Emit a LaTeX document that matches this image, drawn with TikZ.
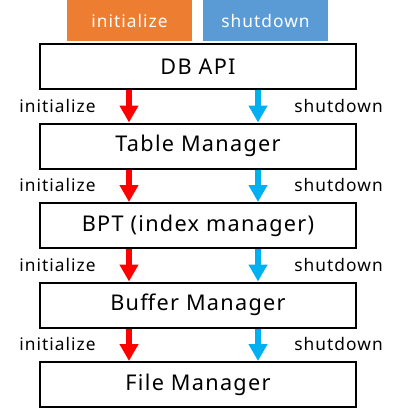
\documentclass[tikz,border=0pt]{standalone}
\usepackage{fontspec}
\setmainfont{Noto Sans}[LetterSpace=6]
\usetikzlibrary{arrows.meta}
\definecolor{legor}{HTML}{ED7D31}
\definecolor{legbl}{HTML}{5B9BD5}
\definecolor{arrred}{HTML}{FF0000}
\definecolor{arrblue}{HTML}{00B0F0}
\tikzset{
  layerbox/.style={draw=black, line width=1.5pt, minimum width=237pt, minimum height=33.75pt, inner sep=0pt,
    font=\fontsize{16.25}{18}\selectfont},
  legbox/.style={minimum width=93.75pt, minimum height=30.75pt, inner sep=0pt, text=white,
    font=\fontsize{13}{15}\selectfont},
  sidelabel/.style={inner sep=0pt, font=\fontsize{13}{15}\selectfont},
  flowarrow/.style={line width=4.5pt, -{Triangle[width=13.5pt,length=12.75pt]}},
}
\begin{document}
\begin{tikzpicture}[x=0.75pt,y=-0.75pt]
\useasboundingbox (0,0) rectangle (403,414);
\node[legbox, fill=legor] (legi) at (129.5,20.5) {initialize};
\node[legbox, fill=legbl] (legs) at (265.5,20.5) {shutdown};
\node[layerbox] (db) at (198,66.5) {DB API};
\node[layerbox] (tm) at (198,146) {Table Manager};
\node[layerbox] (bpt) at (198,225.5) {BPT (index manager)};
\node[layerbox] (bm) at (198,305) {Buffer Manager};
\node[layerbox] (fm) at (198,384.5) {File Manager};
\coordinate (rx) at (129,0);
\coordinate (bx) at (258,0);
\foreach \a/\b/\k in {db/tm/1,tm/bpt/2,bpt/bm/3,bm/fm/4}{
  \draw[flowarrow, draw=arrred, fill=arrred] (\a.south -| rx) -- (\b.north -| rx);
  \draw[flowarrow, draw=arrblue, fill=arrblue] (\a.south -| bx) -- (\b.north -| bx);
  \path (\a.south) -- (\b.north) coordinate[pos=0.5] (g\k);
  \node[sidelabel, anchor=base west] (il\k) at ([yshift=-4.5pt]g\k -| 19,0) {initialize};
  \node[sidelabel, anchor=base east] (sl\k) at ([yshift=-4.5pt]g\k -| 383,0) {shutdown};
}
\end{tikzpicture}
\end{document}
